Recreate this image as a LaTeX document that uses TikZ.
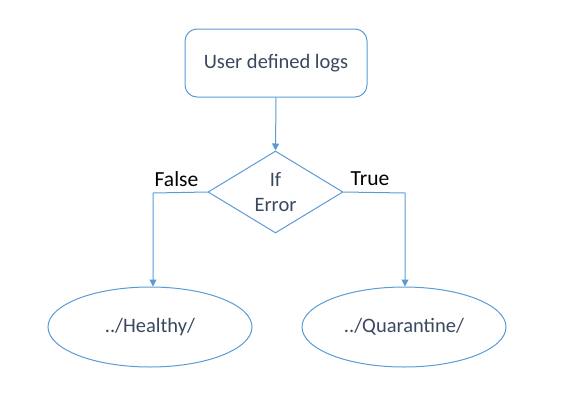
\documentclass[tikz,border=0pt]{standalone}
\usepackage{fontspec}
\setmainfont{Carlito}
\usetikzlibrary{shapes.geometric,arrows.meta}
\definecolor{lineblue}{RGB}{91,155,213}
\definecolor{slate}{RGB}{58,72,94}
\begin{document}
\begin{tikzpicture}[x=1pt,y=-1pt,
  every node/.style={font=\fontsize{20.5}{25}\selectfont},
  conn/.style={draw=lineblue, line width=1pt, -{Triangle[width=7pt,length=7pt]}},
  boxnode/.style={draw=lineblue, line width=1pt, rounded corners=12pt, minimum width=182pt, minimum height=68pt, inner sep=0pt, text=slate},
  decnode/.style={draw=lineblue, line width=1pt, diamond, minimum width=135pt, minimum height=82pt, inner sep=0pt},
  outnode/.style={draw=lineblue, line width=1pt, ellipse, minimum width=204pt, minimum height=80pt, inner sep=0pt, text=slate},
  lbl/.style={text=black, font=\fontsize{21.5}{25}\selectfont}]
\useasboundingbox (0,0) rectangle (563,400);
\node[boxnode] (logs) at (276,63) {User defined logs};
\node[decnode] (dec) at (275.5,192) {};
\node[align=center, text=slate] (dectext) at (275.5,192) {If\\Error};
\node[outnode] (healthy) at (150,327) {../Healthy/};
\node[outnode] (quar) at (404,327) {../Quarantine/};
\coordinate (fcorner) at (153,193);
\coordinate (tcorner) at (405,193);
\draw[conn] (logs.south) -- (dec.north);
\draw[conn] (dec.west) -- (fcorner) -- (fcorner |- healthy.north);
\draw[conn] (dec.east) -- (tcorner) -- (tcorner |- quar.north);
\node[lbl] (flabel) at (176.5,179) {False};
\node[lbl] (tlabel) at (370,179) {True};
\end{tikzpicture}
\end{document}
